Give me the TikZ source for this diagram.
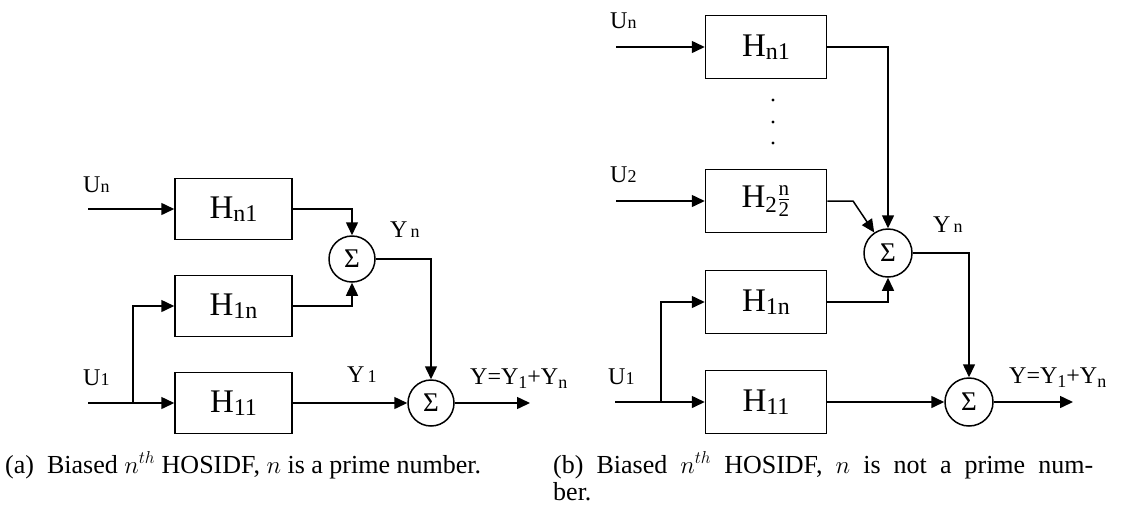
\documentclass[tikz,border=0pt]{standalone}
\usepackage{amsmath}
\usepackage{fontspec}
\setmainfont{Liberation Serif}
\usetikzlibrary{arrows.meta}
\newcommand\hlab[1]{{\fontsize{33}{33}\selectfont H}\raisebox{-3pt}{\fontsize{24}{24}\selectfont #1}}
\newcommand\slab[2]{{\fontsize{24}{24}\selectfont #1}{\fontsize{18}{18}\selectfont #2}}
\newcommand\ylab[2]{{\fontsize{24}{24}\selectfont #1}\raisebox{-4pt}{\fontsize{18}{18}\selectfont #2}}
\newcommand\hfraclab{{\fontsize{33}{33}\selectfont H}\raisebox{-5pt}{\fontsize{23}{23}\selectfont 2}\kern0.5pt\raisebox{5pt}{$\genfrac{}{}{0.9pt}{0}{\mbox{\fontsize{21}{21}\selectfont n}}{\mbox{\fontsize{21}{21}\selectfont 2}}$}}
\begin{document}
\begin{tikzpicture}[x=1pt,y=-1pt,
  blk/.style={draw,line width=1.5pt,minimum width=117pt,minimum height=61pt,inner sep=0pt},
  blkb/.style={blk,minimum width=121pt,minimum height=63pt},
  sumnode/.style={circle,draw,line width=1.5pt,minimum size=46pt,inner sep=0pt,font=\fontsize{27}{27}\selectfont},
  arr/.style={-{Triangle[length=13pt,width=12pt]},line width=1.5pt},
  lab/.style={inner sep=0pt,anchor=base west},
  captext/.style={inner sep=0pt,anchor=base west,font=\fontsize{26}{28}\selectfont}]
\useasboundingbox (0,0) rectangle (1123,512);
% ---------- (a) ----------
\node[blk] (a1) at (233.5,209) {\hlab{n1}};
\node[blk] (a2) at (233.5,306) {\hlab{1n}};
\node[blk] (a3) at (233.5,403) {\hlab{11}};
\node[sumnode] (as1) at (352,259) {Σ};
\node[sumnode] (as2) at (431,403) {Σ};
\coordinate (ain1) at (88,209);
\coordinate (ain2) at (88,403);
\coordinate (ab) at (133,403);
\coordinate (aout) at (530,403);
\draw[arr] (ain1) -- (a1);
\draw[arr] (ain2) -- (a3);
\draw[arr] (ab) |- (a2);
\draw[arr] (a1) -| (as1);
\draw[arr] (a2) -| (as1);
\draw[arr] (as1) -| (as2);
\draw[arr] (a3) -- (as2);
\draw[arr] (as2) -- (aout);
\node[lab] (aUn) at (83,192) {\slab{U}{n}};
\node[lab] (aU1) at (83,385) {\slab{U}{1}};
\node[lab] (aYn) at (390,237) {\slab{Y}{\,n}};
\node[lab] (aY1) at (347,382) {\slab{Y}{\,1}};
\node[lab] (aY) at (470,384) {\ylab{Y=Y}{1}{\fontsize{24}{24}\selectfont +}\ylab{Y}{n}};
% ---------- (b) ----------
\node[blkb] (b1) at (766,47) {\hlab{n1}};
\node[blkb] (b2) at (766,201) {\hfraclab};
\node[blkb] (b3) at (766,302) {\hlab{1n}};
\node[blkb] (b4) at (766,402) {\hlab{11}};
\node[sumnode,minimum size=48pt] (bs1) at (888,253) {Σ};
\node[sumnode,minimum size=48pt] (bs2) at (969,402) {Σ};
\coordinate (bin1) at (616,47);
\coordinate (bin2) at (616,201);
\coordinate (bin3) at (615,402);
\coordinate (bb) at (661,402);
\coordinate (bk) at (853,201);
\coordinate (bout) at (1073,402);
\draw[arr] (bin1) -- (b1);
\draw[arr] (bin2) -- (b2);
\draw[arr] (bin3) -- (b4);
\draw[arr] (bb) |- (b3);
\draw[arr] (b1) -| (bs1);
\draw[arr] (b2.east) -- (bk) -- (bs1);
\draw[arr] (b3) -| (bs1);
\draw[arr] (bs1) -| (bs2);
\draw[arr] (b4) -- (bs2);
\draw[arr] (bs2) -- (bout);
\fill (773,100) circle (1.6pt) (773,122) circle (1.6pt) (773,143) circle (1.6pt);
\node[lab] (bUn) at (610,28) {\slab{U}{n}};
\node[lab] (bU2) at (610,182) {\slab{U}{2}};
\node[lab] (bU1) at (608,384) {\slab{U}{1}};
\node[lab] (bYn) at (933,232) {\slab{Y}{\,n}};
\node[lab] (bY) at (1009,383) {\ylab{Y=Y}{1}{\fontsize{24}{24}\selectfont +}\ylab{Y}{n}};
% ---------- captions ----------
\node[captext] (capa) at (5,473) {(a)\enspace Biased $n^{th}$ HOSIDF, $n$ is a prime number.};
\node[captext] (capb) at (553,473) {\makebox[540pt][s]{(b)\enspace Biased $n^{th}$ HOSIDF, $n$ is not a prime num-}};
\node[captext] (capb2) at (553,500) {ber.};
\end{tikzpicture}
\end{document}
